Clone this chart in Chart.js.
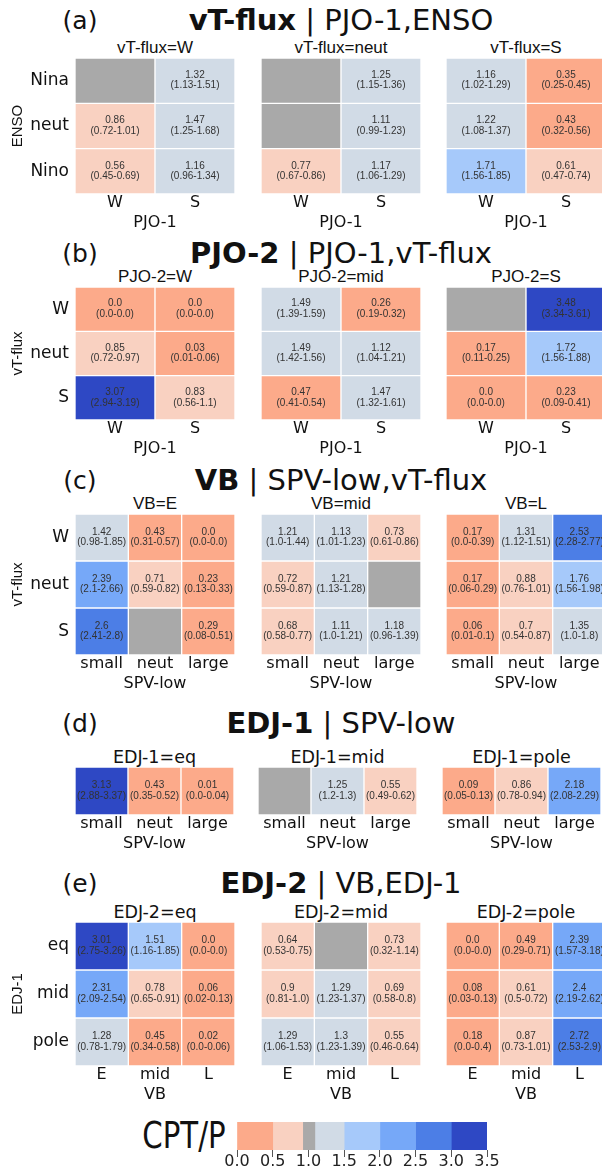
<!DOCTYPE html>
<html>
<head>
<meta charset="utf-8">
<script src="https://cdn.jsdelivr.net/npm/chart.js@4.4.0/dist/chart.umd.min.js"></script>
<style>
  html, body { margin: 0; padding: 0; background: #fff; overflow: hidden; width: 602px; height: 1171px; position: relative; }
  .t { position: absolute; white-space: nowrap; color: #111; line-height: 1; transform: translate(-50%, -50%); }
  canvas { position: absolute; }
</style>
</head>
<body>
<script>
// ---- category labels ----
const ensoLabels = ['Nina', 'neut', 'Nino'];
const pjo1Labels = ['W', 'S'];
const vtLabels = ['W', 'neut', 'S'];
const spvLabels = ['small', 'neut', 'large'];
const vbLabels = ['E', 'mid', 'L'];
const edj1Labels = ['eq', 'mid', 'pole'];

// ---- (a) vT-flux | PJO-1,ENSO : rows ENSO, cols PJO-1 ----
const aFacets = ['vT-flux=W', 'vT-flux=neut', 'vT-flux=S'];
const aValues = [
  [[null, 1.32], [0.86, 1.47], [0.56, 1.16]],
  [[null, 1.25], [null, 1.11], [0.77, 1.17]],
  [[1.16, 0.35], [1.22, 0.43], [1.71, 0.61]]
];
const aLow = [
  [[null, 1.13], [0.72, 1.25], [0.45, 0.96]],
  [[null, 1.15], [null, 0.99], [0.67, 1.06]],
  [[1.02, 0.25], [1.08, 0.32], [1.56, 0.47]]
];
const aHigh = [
  [[null, 1.51], [1.01, 1.68], [0.69, 1.34]],
  [[null, 1.36], [null, 1.23], [0.86, 1.29]],
  [[1.29, 0.45], [1.37, 0.56], [1.85, 0.74]]
];

// ---- (b) PJO-2 | PJO-1,vT-flux : rows vT-flux, cols PJO-1 ----
const bFacets = ['PJO-2=W', 'PJO-2=mid', 'PJO-2=S'];
const bValues = [
  [[0.0, 0.0], [0.85, 0.03], [3.07, 0.83]],
  [[1.49, 0.26], [1.49, 1.12], [0.47, 1.47]],
  [[null, 3.48], [0.17, 1.72], [0.0, 0.23]]
];
const bLow = [
  [[0.0, 0.0], [0.72, 0.01], [2.94, 0.56]],
  [[1.39, 0.19], [1.42, 1.04], [0.41, 1.32]],
  [[null, 3.34], [0.11, 1.56], [0.0, 0.09]]
];
const bHigh = [
  [[0.0, 0.0], [0.97, 0.06], [3.19, 1.1]],
  [[1.59, 0.32], [1.56, 1.21], [0.54, 1.61]],
  [[null, 3.61], [0.25, 1.88], [0.0, 0.41]]
];

// ---- (c) VB | SPV-low,vT-flux : rows vT-flux, cols SPV-low ----
const cFacets = ['VB=E', 'VB=mid', 'VB=L'];
const cValues = [
  [[1.42, 0.43, 0.0], [2.39, 0.71, 0.23], [2.6, null, 0.29]],
  [[1.21, 1.13, 0.73], [0.72, 1.21, null], [0.68, 1.11, 1.18]],
  [[0.17, 1.31, 2.53], [0.17, 0.88, 1.76], [0.06, 0.7, 1.35]]
];
const cLow = [
  [[0.98, 0.31, 0.0], [2.1, 0.59, 0.13], [2.41, null, 0.08]],
  [[1.0, 1.01, 0.61], [0.59, 1.13, null], [0.58, 1.0, 0.96]],
  [[0.0, 1.12, 2.28], [0.06, 0.76, 1.56], [0.01, 0.54, 1.0]]
];
const cHigh = [
  [[1.85, 0.57, 0.0], [2.66, 0.82, 0.33], [2.8, null, 0.51]],
  [[1.44, 1.23, 0.86], [0.87, 1.28, null], [0.77, 1.21, 1.39]],
  [[0.39, 1.51, 2.77], [0.29, 1.01, 1.98], [0.1, 0.87, 1.8]]
];

// ---- (d) EDJ-1 | SPV-low : single row, cols SPV-low ----
const dFacets = ['EDJ-1=eq', 'EDJ-1=mid', 'EDJ-1=pole'];
const dValues = [[[3.13, 0.43, 0.01]], [[null, 1.25, 0.55]], [[0.09, 0.86, 2.18]]];
const dLow = [[[2.88, 0.35, 0.0]], [[null, 1.2, 0.49]], [[0.05, 0.78, 2.08]]];
const dHigh = [[[3.37, 0.52, 0.04]], [[null, 1.3, 0.62]], [[0.13, 0.94, 2.29]]];

// ---- (e) EDJ-2 | VB,EDJ-1 : rows EDJ-1, cols VB ----
const eFacets = ['EDJ-2=eq', 'EDJ-2=mid', 'EDJ-2=pole'];
const eValues = [
  [[3.01, 1.51, 0.0], [2.31, 0.78, 0.06], [1.28, 0.45, 0.02]],
  [[0.64, null, 0.73], [0.9, 1.29, 0.69], [1.29, 1.3, 0.55]],
  [[0.0, 0.49, 2.39], [0.08, 0.61, 2.4], [0.18, 0.87, 2.72]]
];
const eLow = [
  [[2.75, 1.16, 0.0], [2.09, 0.65, 0.02], [0.78, 0.34, 0.0]],
  [[0.53, null, 0.32], [0.81, 1.23, 0.58], [1.06, 1.23, 0.46]],
  [[0.0, 0.29, 1.57], [0.03, 0.5, 2.19], [0.0, 0.73, 2.53]]
];
const eHigh = [
  [[3.26, 1.85, 0.0], [2.54, 0.91, 0.13], [1.79, 0.58, 0.06]],
  [[0.75, null, 1.14], [1.0, 1.37, 0.8], [1.53, 1.39, 0.64]],
  [[0.0, 0.71, 3.18], [0.13, 0.72, 2.62], [0.4, 1.01, 2.9]]
];

// ---- discrete colour scale for CPT/P ----
const binEdges = [0, 0.5, 0.92, 1.09, 1.5, 2.0, 2.5, 3.0, 3.5];
const binColors = ['#FCAA8A', '#F9D1C1', '#A9A9A9', '#D1DBE6', '#A6C9FA', '#76A8F8', '#4C7EE6', '#2E48C4'];
const missingColor = '#A9A9A9';
const cbTicks = [0, 0.5, 1.0, 1.5, 2.0, 2.5, 3.0, 3.5];

function colorFor(v) {
  if (v === null) return missingColor;
  for (let i = 0; i < binColors.length; i++) {
    if (v < binEdges[i + 1]) return binColors[i];
  }
  return binColors[binColors.length - 1];
}
function fmt(v) { return Number.isInteger(v) ? v.toFixed(1) : String(v); }

function addText(html, x, y, css) {
  const d = document.createElement('div');
  d.className = 't';
  d.innerHTML = html;
  d.style.left = x + 'px';
  d.style.top = y + 'px';
  d.style.cssText += css;
  document.body.appendChild(d);
  return d;
}

const DJ = '"DejaVu Sans", sans-serif';
const LS = '"Liberation Sans", Arial, sans-serif';

// one heat map facet drawn as floating bars, one dataset per row
function heatmap(o) {
  const nRows = o.rows.length;
  const yW = o.showY ? o.left : 0;
  const cellsH = o.bottom - o.top;
  const xAxisH = 40;
  const cv = document.createElement('canvas');
  cv.width = yW + o.width;
  cv.height = cellsH + xAxisH;
  cv.style.left = (o.showY ? 0 : o.left) + 'px';
  cv.style.top = o.top + 'px';
  document.body.appendChild(cv);

  const datasets = o.rows.map((r, ri) => ({
    label: r,
    data: o.cols.map(() => [ri, ri + 1]),
    backgroundColor: o.cols.map((c, ci) => colorFor(o.vals[ri][ci])),
    borderColor: 'rgba(255,255,255,0.85)',
    borderWidth: 1,
    borderSkipped: false,
    barPercentage: 1,
    categoryPercentage: 1,
    grouped: false
  }));

  const cellText = {
    id: 'cellText',
    afterDatasetsDraw(chart) {
      const { ctx, scales: { x, y } } = chart;
      ctx.save();
      ctx.font = '10px ' + LS;
      ctx.fillStyle = '#333';
      ctx.textAlign = 'center';
      ctx.textBaseline = 'middle';
      o.vals.forEach((row, ri) => row.forEach((v, ci) => {
        if (v === null) return;
        const cx = x.getPixelForValue(ci);
        const cy = y.getPixelForValue(ri + 0.5);
        ctx.fillText(fmt(v), cx, cy - 5.5);
        ctx.fillText('(' + fmt(o.lo[ri][ci]) + '-' + fmt(o.hi[ri][ci]) + ')', cx, cy + 5);
      }));
      ctx.restore();
    }
  };

  new Chart(cv, {
    type: 'bar',
    data: { labels: o.cols, datasets },
    options: {
      responsive: false,
      animation: false,
      devicePixelRatio: 1,
      layout: { padding: 0 },
      plugins: { legend: { display: false }, tooltip: { enabled: false } },
      scales: {
        x: {
          type: 'category',
          offset: true,
          grid: { display: false, drawTicks: false },
          border: { display: false },
          ticks: { font: { family: DJ, size: 16 }, color: '#111', padding: -1, maxRotation: 0, autoSkip: false },
          title: { display: true, text: o.xTitle, font: { family: DJ, size: 16 }, color: '#111', padding: { top: 0, bottom: 1.5 } },
          afterFit: s => { s.height = xAxisH; s.paddingLeft = 0; s.paddingRight = 0; }
        },
        y: {
          type: 'linear',
          min: 0,
          max: nRows,
          reverse: true,
          display: o.showY,
          afterBuildTicks: s => { s.ticks = o.rows.map((_, i) => ({ value: i + 0.5 })); },
          ticks: { callback: v => o.rows[Math.floor(v)], font: { family: DJ, size: 17 }, color: '#111', padding: 6 },
          grid: { display: false, drawTicks: false },
          border: { display: false },
          title: { display: !!o.yTitle, text: o.yTitle || '', font: { family: LS, size: 15 }, color: '#111', padding: { top: 9, bottom: 0 } },
          afterFit: s => { if (o.showY) { s.width = yW; } s.paddingTop = 0; s.paddingBottom = 0; }
        }
      }
    },
    plugins: [cellText]
  });
}

// panel layout
const stdLefts = [75, 261, 446];
const panels = [
  { tag: '(a)', bold: 'vT-flux', rest: ' | PJO-1,ENSO', titleY: 20, subY: 48, top: 58, bottom: 194,
    rows: ensoLabels, cols: pjo1Labels, facets: aFacets, vals: aValues, lo: aLow, hi: aHigh,
    yTitle: 'ENSO', xTitle: 'PJO-1', lefts: stdLefts, width: 160, subFont: LS, subSize: 17 },
  { tag: '(b)', bold: 'PJO-2', rest: ' | PJO-1,vT-flux', titleY: 253, subY: 277, top: 287, bottom: 420,
    rows: vtLabels, cols: pjo1Labels, facets: bFacets, vals: bValues, lo: bLow, hi: bHigh,
    yTitle: 'vT-flux', xTitle: 'PJO-1', lefts: stdLefts, width: 160, subFont: LS, subSize: 17 },
  { tag: '(c)', bold: 'VB', rest: ' | SPV-low,vT-flux', titleY: 480, subY: 504, top: 514, bottom: 655,
    rows: vtLabels, cols: spvLabels, facets: cFacets, vals: cValues, lo: cLow, hi: cHigh,
    yTitle: 'vT-flux', xTitle: 'SPV-low', lefts: stdLefts, width: 160, subFont: LS, subSize: 17 },
  { tag: '(d)', bold: 'EDJ-1', rest: ' | SPV-low', titleY: 723, subY: 757, top: 767, bottom: 815,
    rows: [''], cols: spvLabels, facets: dFacets, vals: dValues, lo: dLow, hi: dHigh,
    yTitle: null, xTitle: 'SPV-low', lefts: [75, 258, 442], width: 159, subFont: DJ, subSize: 17.5 },
  { tag: '(e)', bold: 'EDJ-2', rest: ' | VB,EDJ-1', titleY: 883, subY: 912, top: 922, bottom: 1066,
    rows: edj1Labels, cols: vbLabels, facets: eFacets, vals: eValues, lo: eLow, hi: eHigh,
    yTitle: 'EDJ-1', xTitle: 'VB', lefts: stdLefts, width: 160, subFont: DJ, subSize: 17.5 }
];

panels.forEach(p => {
  addText(p.tag, 80, p.titleY, 'font: 25px ' + DJ + ';');
  addText('<b>' + p.bold + '</b>' + p.rest.replace(/ /g, '&nbsp;'), 341, p.titleY, 'font: 29px ' + DJ + ';');
  p.facets.forEach((f, fi) => {
    const left = p.lefts[fi];
    addText(f, left + p.width / 2, p.subY, 'font: ' + p.subSize + 'px ' + p.subFont + ';');
    heatmap({
      left, width: p.width, top: p.top, bottom: p.bottom,
      rows: p.rows, cols: p.cols,
      vals: p.vals[fi], lo: p.lo[fi], hi: p.hi[fi],
      showY: fi === 0 && p.yTitle !== null,
      yTitle: fi === 0 ? p.yTitle : null,
      xTitle: p.xTitle
    });
  });
});

// ---- colour bar ----
addText('CPT/P', 184, 1135, 'font: 37px ' + DJ + '; transform: translate(-50%, -50%) scaleX(0.79);');
(function colourBar() {
  const cv = document.createElement('canvas');
  cv.width = 330; cv.height = 58;
  cv.style.left = '200px'; cv.style.top = '1122px';
  document.body.appendChild(cv);
  const datasets = binColors.map((col, i) => ({
    data: [[binEdges[i], binEdges[i + 1]]],
    backgroundColor: col,
    borderWidth: 0,
    barPercentage: 1,
    categoryPercentage: 1,
    grouped: false
  }));
  new Chart(cv, {
    type: 'bar',
    data: { labels: [''], datasets },
    options: {
      indexAxis: 'y',
      responsive: false,
      animation: false,
      devicePixelRatio: 1,
      layout: { padding: { left: 37, right: 43, top: 0, bottom: 0 } },
      plugins: { legend: { display: false }, tooltip: { enabled: false } },
      scales: {
        y: { type: 'category', display: false, offset: true },
        x: {
          type: 'linear',
          min: 0, max: 3.5,
          afterBuildTicks: s => { s.ticks = cbTicks.map(v => ({ value: v })); },
          ticks: { callback: v => v.toFixed(1), font: { family: DJ, size: 16 }, color: '#222', padding: -5, maxRotation: 0 },
          grid: { display: true, drawOnChartArea: false, drawTicks: true, tickLength: 7, color: '#555', lineWidth: 1 },
          border: { display: false },
          afterFit: s => { s.height = 30; s.paddingLeft = 0; s.paddingRight = 0; }
        }
      }
    }
  });
})();
</script>
</body>
</html>
